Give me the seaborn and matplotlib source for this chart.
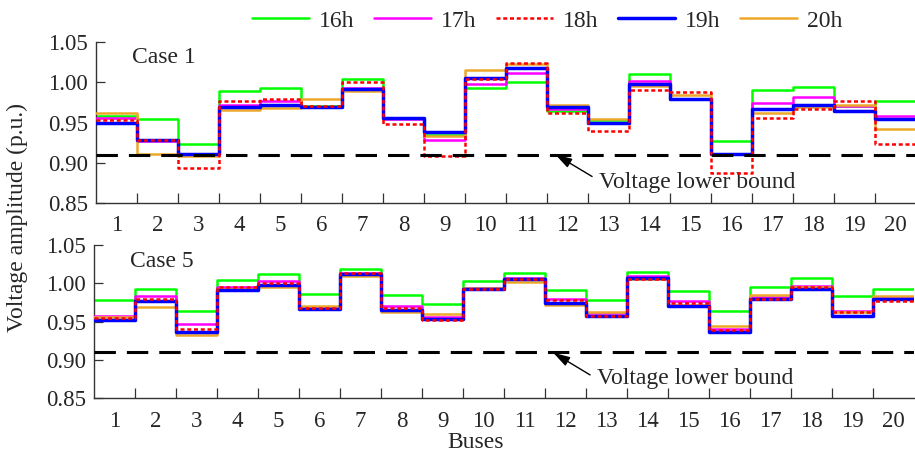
import numpy as np
import pandas as pd
import matplotlib
matplotlib.use("Agg")
import matplotlib.pyplot as plt
import seaborn as sns

buses = list(range(1, 21))
hours = ["16h", "17h", "18h", "19h", "20h"]

# Case 1
c1_16h = [0.958, 0.955, 0.924, 0.990, 0.993, 0.971, 1.004, 0.956, 0.935, 0.993,
          1.001, 0.965, 0.953, 1.010, 0.979, 0.927, 0.991, 0.994, 0.971, 0.977]
c1_17h = [0.956, 0.927, 0.911, 0.972, 0.977, 0.970, 0.993, 0.955, 0.928, 0.998,
          1.012, 0.967, 0.950, 1.002, 0.979, 0.911, 0.975, 0.982, 0.971, 0.958]
c1_18h = [0.953, 0.928, 0.893, 0.977, 0.980, 0.971, 1.000, 0.948, 0.908, 1.004,
          1.024, 0.962, 0.940, 0.991, 0.988, 0.887, 0.956, 0.967, 0.977, 0.924]
c1_19h = [0.949, 0.929, 0.911, 0.969, 0.972, 0.969, 0.992, 0.956, 0.938, 1.006,
          1.018, 0.969, 0.950, 0.998, 0.979, 0.911, 0.967, 0.972, 0.965, 0.954]
c1_20h = [0.962, 0.911, 0.908, 0.966, 0.968, 0.979, 0.989, 0.956, 0.933, 1.015,
          1.023, 0.972, 0.955, 0.995, 0.985, 0.911, 0.962, 0.970, 0.972, 0.942]

# Case 5
c5_16h = [0.978, 0.993, 0.964, 1.004, 1.012, 0.986, 1.019, 0.985, 0.973, 1.003,
          1.014, 0.991, 0.978, 1.015, 0.990, 0.964, 0.995, 1.007, 0.983, 0.993]
c5_17h = [0.958, 0.983, 0.947, 0.995, 1.003, 0.968, 1.014, 0.971, 0.956, 0.994,
          1.007, 0.980, 0.961, 1.009, 0.977, 0.941, 0.982, 0.997, 0.964, 0.981]
c5_18h = [0.955, 0.979, 0.940, 0.995, 1.000, 0.968, 1.013, 0.968, 0.952, 0.993,
          1.005, 0.978, 0.957, 1.005, 0.974, 0.939, 0.980, 0.995, 0.962, 0.977]
c5_19h = [0.952, 0.977, 0.937, 0.991, 0.998, 0.966, 1.012, 0.965, 0.953, 0.993,
          1.006, 0.974, 0.957, 1.007, 0.970, 0.937, 0.980, 0.993, 0.957, 0.980]
c5_20h = [0.956, 0.969, 0.933, 0.992, 0.995, 0.970, 1.009, 0.962, 0.960, 0.994,
          1.002, 0.972, 0.963, 1.006, 0.972, 0.944, 0.985, 0.995, 0.963, 0.983]

lower_bound = 0.91
yticks = [0.85, 0.90, 0.95, 1.00, 1.05]

case1 = [c1_16h, c1_17h, c1_18h, c1_19h, c1_20h]
case5 = [c5_16h, c5_17h, c5_18h, c5_19h, c5_20h]

colors = {"16h": "#00FF00", "17h": "#FF00FF", "18h": "#FF0000",
          "19h": "#0000FF", "20h": "#EDA829"}
styles = {"16h": dict(lw=1.8, ls="-"), "17h": dict(lw=1.8, ls="-"),
          "18h": dict(lw=1.8, ls=(0, (1.6, 1.1))), "19h": dict(lw=2.5, ls="-"),
          "20h": dict(lw=1.8, ls="-")}
zorders = {"16h": 2, "17h": 3, "20h": 4, "19h": 5, "18h": 6}

sns.set_theme(style="ticks")
plt.rcParams["font.family"] = ["Liberation Serif", "DejaVu Serif"]

fig = plt.figure(figsize=(9.15, 4.57), dpi=100)
ax1 = fig.add_axes([96 / 915, 1 - 203 / 457, 820 / 915, 160.7 / 457])
ax2 = fig.add_axes([94 / 915, 1 - 398.3 / 457, 820 / 915, 153.3 / 457])


def step_frame(vals):
    b = np.asarray(buses, dtype=float)
    v = np.asarray(vals, dtype=float)
    x = np.column_stack([b - 0.5, b + 0.5]).ravel()
    y = np.repeat(v, 2)
    return pd.DataFrame({"bus": x, "v": y})


def draw(ax, series, label, text_y, ann):
    for h, vals in zip(hours, series):
        df = step_frame(vals)
        sns.lineplot(data=df, x="bus", y="v", ax=ax, sort=False, estimator=None,
                     color=colors[h], linewidth=styles[h]["lw"],
                     linestyle=styles[h]["ls"], zorder=zorders[h],
                     label=h if ax is ax1 else None)
    ax.axhline(lower_bound, color="black", lw=2.2, ls=(0, (7, 3.6)), zorder=8)
    ax.set_xlim(0.5, 20.5)
    ax.set_ylim(0.85, 1.05)
    ax.set_yticks(yticks)
    ax.set_yticklabels([f"{t:.2f}" for t in yticks])
    ax.set_xticks(buses)
    ax.set_xticklabels([str(b) for b in buses])
    ax.set_xticks([b + 0.5 for b in buses[:-1]], minor=True)
    ax.tick_params(axis="x", which="major", length=0, pad=9, labelsize=16.5)
    ax.tick_params(axis="x", which="minor", direction="in", length=7, width=0.9,
                   color="#333333")
    ax.tick_params(axis="y", which="major", direction="in", length=6.5, width=0.9,
                   pad=6, labelsize=16.5, color="#333333")
    for s in ["top", "right"]:
        ax.spines[s].set_visible(False)
    for s in ["left", "bottom"]:
        ax.spines[s].set_linewidth(1.0)
        ax.spines[s].set_color("#333333")
    ax.set_xlabel("")
    ax.set_ylabel("")
    ax.text(1.37, text_y, label, fontsize=17, ha="left", va="center")
    tip, tail, txt = ann
    ax.annotate("", xy=tip, xytext=tail,
                arrowprops=dict(arrowstyle="-|>,head_length=0.85,head_width=0.25",
                                color="black", lw=1.0,
                                mutation_scale=12, shrinkA=0, shrinkB=0),
                zorder=9)
    ax.text(txt[0], txt[1], "Voltage lower bound", fontsize=17,
            ha="left", va="center")


draw(ax1, case1, "Case 1", 1.0305,
     ((11.7, 0.9105), (12.6, 0.883), (12.78, 0.8755)))
draw(ax2, case5, "Case 5", 1.028,
     ((11.7, 0.9095), (12.6, 0.8805), (12.78, 0.876)))

ax1.legend(loc="center", bbox_to_anchor=(0.598, 1 - 21 / 457),
           bbox_transform=fig.transFigure, ncol=5, frameon=False, fontsize=17,
           handlelength=2.4, handletextpad=0.42, columnspacing=0.85)

fig.text(17 / 915, 1 - 218 / 457, "Voltage amplitude (p.u.)", rotation=90,
         ha="center", va="center", fontsize=17)
fig.text(476 / 915, 1 - 442 / 457, "Buses", ha="center", va="center",
         fontsize=17)

fig.savefig("out.png", dpi=100)
